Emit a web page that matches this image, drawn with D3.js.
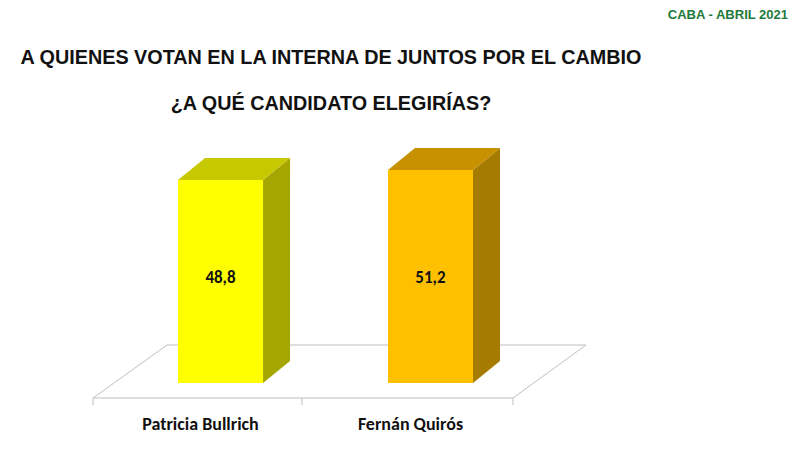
<!DOCTYPE html>
<html><head><meta charset="utf-8">
<script src="https://cdn.jsdelivr.net/npm/d3@7"></script>
<style>body{margin:0;background:#fff}</style></head>
<body><svg id="c" width="798" height="452"></svg>
<script>
const categories = ["Patricia Bullrich", "Fernán Quirós"];
const values = [48.8, 51.2];
const labels = ["48,8", "51,2"];
const frontColors = ["#ffff00", "#ffc000"];
const sideColors = ["#a6a600", "#a67c00"];
const topColors = ["#c8c800", "#c89100"];

const svg = d3.select("#c");
const font = "Calibri, Carlito, 'Liberation Sans', Arial, sans-serif";
svg.append("text").attr("x", 788).attr("y", 19).attr("text-anchor", "end")
  .attr("font-family", "Arial, 'Liberation Sans'").attr("font-weight", "bold").attr("font-size", 13)
  .attr("fill", "#1e7a3c").text("CABA -  ABRIL 2021");
svg.append("text").attr("x", 331).attr("y", 64).attr("text-anchor", "middle")
  .attr("font-family", "Arial, 'Liberation Sans'").attr("font-weight", "bold").attr("font-size", 19.8)
  .attr("fill", "#111").text("A QUIENES VOTAN EN LA INTERNA DE JUNTOS POR EL CAMBIO");
svg.append("text").attr("x", 331).attr("y", 110).attr("text-anchor", "middle")
  .attr("font-family", "Arial, 'Liberation Sans'").attr("font-weight", "bold").attr("font-size", 19.8)
  .attr("fill", "#111").text("¿A QUÉ CANDIDATO ELEGIRÍAS?");

const dx = 27, dy = 22;
const x = d3.scaleBand().domain(categories).range([178, 473]).paddingInner(0.595).paddingOuter(0);
const y = d3.scaleLinear().domain([0, 51.2]).range([383, 170]);

const fl = svg.append("g").attr("fill", "none").attr("stroke", "#bfbfbf").attr("stroke-width", 1);
fl.append("path").attr("d", `M93,398 L513,398 L586,345 L167,345 Z`);
fl.append("line").attr("x1", 302).attr("x2", 302).attr("y1", 398).attr("y2", 405);
fl.append("line").attr("x1", 93).attr("x2", 93).attr("y1", 398).attr("y2", 405);
fl.append("line").attr("x1", 513).attr("x2", 513).attr("y1", 398).attr("y2", 405);

categories.forEach((c, i) => {
  const x0 = x(c), w = x.bandwidth(), yt = y(values[i]), yb = y(0);
  const g = svg.append("g");
  g.append("path").attr("d", `M${x0+w},${yt} L${x0+w+dx},${yt-dy} L${x0+w+dx},${yb-dy} L${x0+w},${yb} Z`).attr("fill", sideColors[i]);
  g.append("path").attr("d", `M${x0},${yt} L${x0+dx},${yt-dy} L${x0+w+dx},${yt-dy} L${x0+w},${yt} Z`).attr("fill", topColors[i]);
  g.append("rect").attr("x", x0).attr("y", yt).attr("width", w).attr("height", yb - yt).attr("fill", frontColors[i]);
  g.append("text").attr("x", x0 + w/2).attr("y", 283).attr("text-anchor", "middle")
    .attr("font-family", font).attr("font-weight", "bold").attr("font-size", 17).attr("fill", "#111").text(labels[i]);
  svg.append("text").attr("x", x0 + w/2 - 20).attr("y", 430).attr("text-anchor", "middle")
    .attr("font-family", font).attr("font-weight", "bold").attr("font-size", 18).attr("fill", "#111").text(c);
});
</script></body></html>
